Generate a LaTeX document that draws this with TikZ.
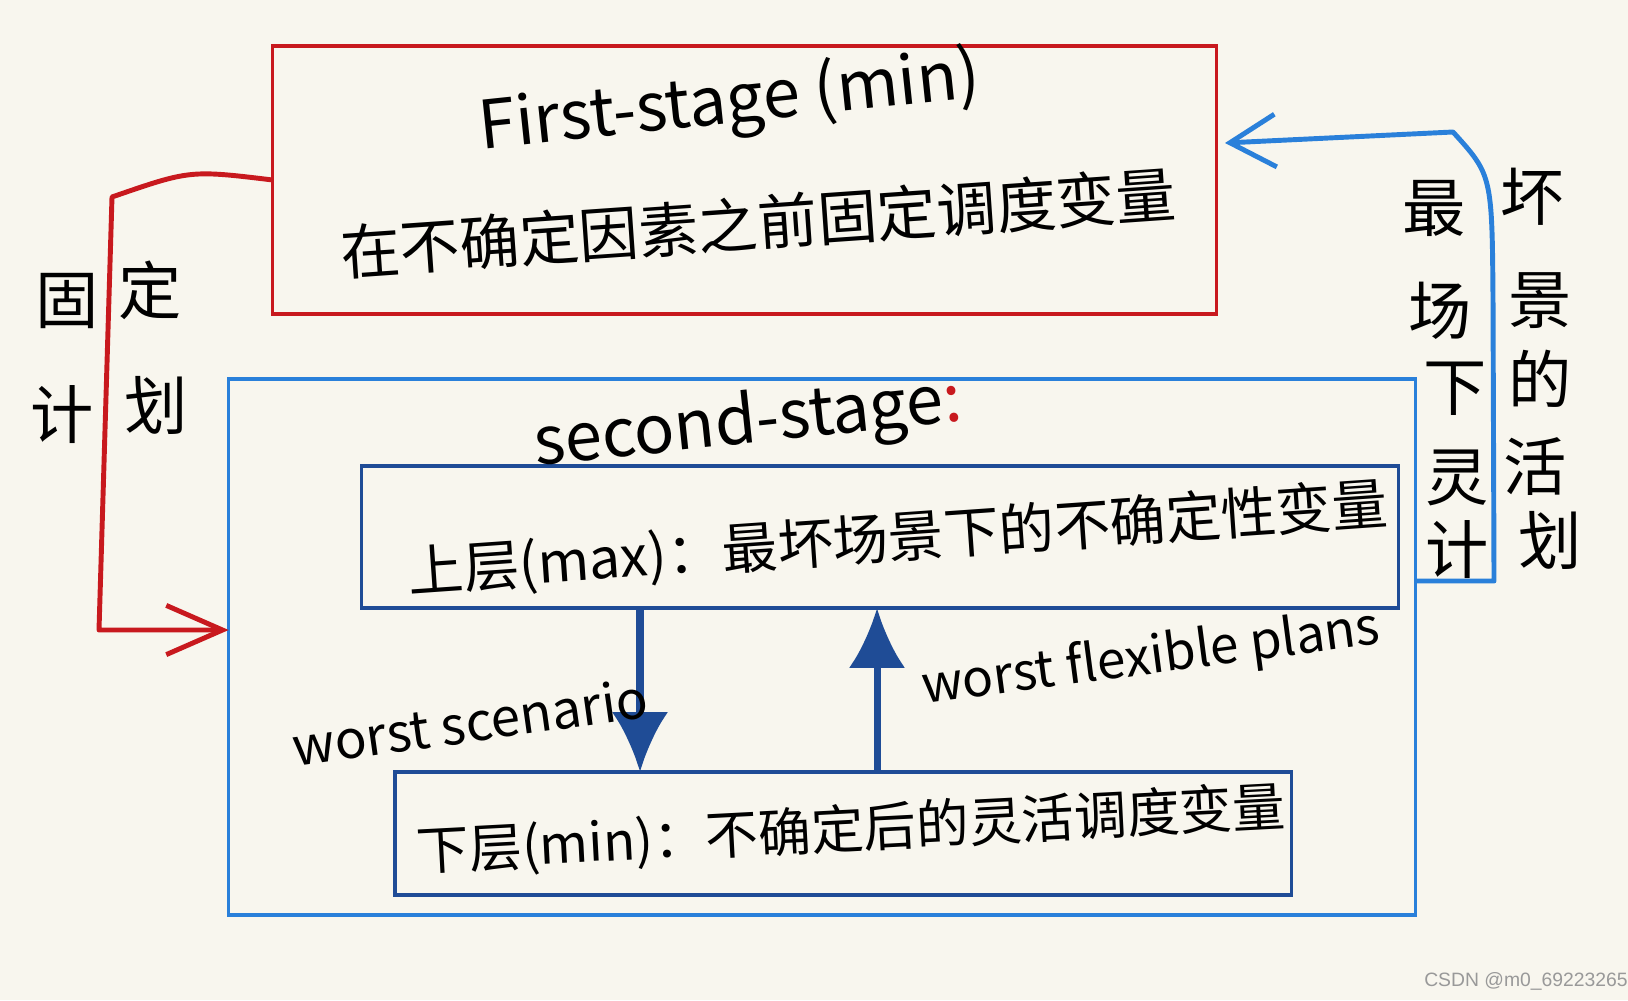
\documentclass[tikz,border=0pt]{standalone}
\usepackage{fontspec}
\newfontfamily\cjk{Noto Sans CJK SC}
\usetikzlibrary{arrows.meta}
\definecolor{paper}{HTML}{F8F6EE}
\definecolor{penred}{HTML}{C8191E}
\definecolor{penblue}{HTML}{2A80DA}
\definecolor{pennavy}{HTML}{1F4C96}
\begin{document}
\begin{tikzpicture}[x=0.01cm, y=-0.01cm,
	hand/.style={font=\cjk, text=black, inner sep=0pt},
	stagebox/.style={draw, line width=1pt, inner sep=0pt, outer sep=0pt},
	levelbox/.style={stagebox, draw=pennavy},
	sidechar/.style={hand, font=\cjk\fontsize{18}{18}\selectfont},
	passarrow/.style={draw=pennavy, line width=2pt, -{Latex[length=17pt, width=16pt]}}]
	% 1. 纸面底色
	\fill[paper] (0,0) rectangle (1628,1000);
	
	% 2. 三个框
	\node[stagebox, draw=penred, minimum width=9.43cm, minimum height=2.68cm] (first) at (744.5,180) {};
	\node[stagebox, draw=penblue, minimum width=11.86cm, minimum height=5.36cm] (second) at (822,647) {};
	\node[levelbox, minimum width=10.36cm, minimum height=1.42cm] (upper) at (880,537) {};
	\node[levelbox, minimum width=8.96cm, minimum height=1.23cm] (lower) at (843,833.5) {};
	
	% 3. 框内文字
	\node[hand, rotate=6, font=\cjk\fontsize{19}{19}\selectfont] (firsttitle) at (730,104) {First-stage (min)};
	\node[hand, rotate=4, font=\cjk\fontsize{17}{17}\selectfont] (firsttext) at (758,223) {在不确定因素之前固定调度变量};
	\node[hand, rotate=6, font=\cjk\fontsize{19}{19}\selectfont] (secondtitle) at (748,425) {second-stage{\color{penred}:}};
	\node[hand, rotate=4, font=\cjk\fontsize{15.8}{15.8}\selectfont] (uppertext) at (898,540) {上层(max)：最坏场景下的不确定性变量};
	\node[hand, rotate=3, font=\cjk\fontsize{15}{15}\selectfont] (lowertext) at (851,831) {下层(min)：不确定后的灵活调度变量};
	
	% 4. 上下层之间的箭头
	\coordinate (downx) at (640,0);
	\coordinate (upx) at (877,0);
	\draw[passarrow] (upper.south -| downx) -- (lower.north -| downx);
	\draw[passarrow] (lower.north -| upx) -- (upper.south -| upx);
	\node[hand, rotate=8, font=\cjk\fontsize{15}{15}\selectfont] (scenario) at (470,722) {worst scenario};
	\node[hand, rotate=7.5, font=\cjk\fontsize{14.6}{14.6}\selectfont] (plans) at (1151,659) {worst flexible plans};
	
	% 5. 左边红色箭头：固定计划
	\coordinate (rbend) at (99,630);
	\draw[penred, line width=1.4pt, line join=round, -{Straight Barb[length=16pt, width=14pt]}]
		(first.west) .. controls (190,170) .. (112,197) -- (rbend) -- (second.west |- rbend);
	\foreach \ch/\px/\py [count=\i] in {固/67/301, 定/150/290, 计/62/415, 划/156/405}
		\node[sidechar] (fix\i) at (\px,\py) {\ch};
	
	% 6. 右边蓝色箭头：最坏场景下的灵活计划
	\coordinate (bcorner) at (1494,581);
	\coordinate (btip) at (1225,143);
	\draw[penblue, line width=1.4pt, line join=round, -{Straight Barb[length=13pt, width=15pt]}]
		(second.east |- bcorner) -- (bcorner) -- (1493,300) .. controls (1492,175) .. (1453,132) -- (btip);
	\foreach \ch/\px/\py [count=\i] in {最/1434/208, 坏/1532/197, 场/1440/311, 景/1540/301, 下/1455/389,
		的/1540/379, 灵/1457/478, 活/1535/467, 计/1457/550, 划/1550/540}
		\node[sidechar] (worst\i) at (\px,\py) {\ch};
	
	% 7. 水印
	\node[text=gray!80, font=\fontspec{Liberation Sans}\fontsize{5.5}{5.5}\selectfont, inner sep=0pt] (mark) at (1526,981) {CSDN @m0\_69223265};
\end{tikzpicture}
\end{document}
